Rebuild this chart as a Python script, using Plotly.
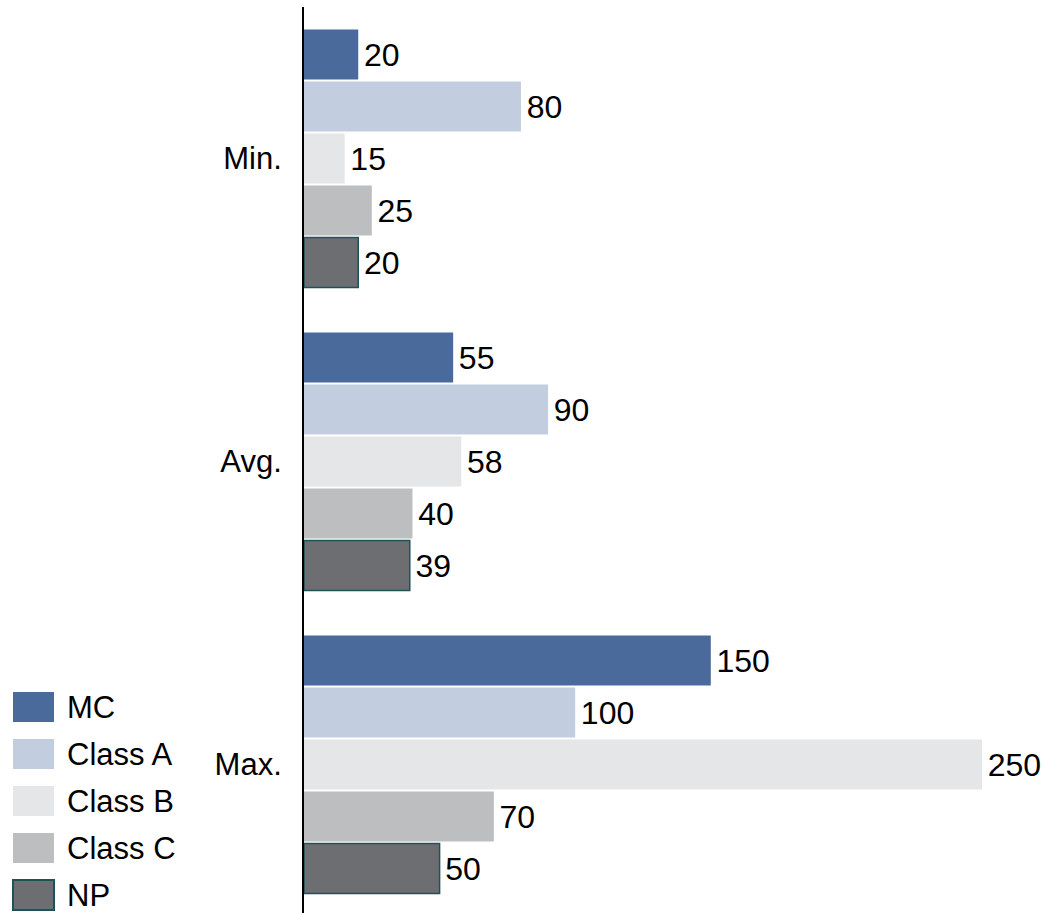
import plotly.graph_objects as go

# Data
categories = ["Min.", "Avg.", "Max."]
series_names = ["MC", "Class A", "Class B", "Class C", "NP"]
mc = [20, 55, 150]
class_a = [80, 90, 100]
class_b = [15, 58, 250]
class_c = [25, 40, 70]
np_vals = [20, 39, 50]

values = [mc, class_a, class_b, class_c, np_vals]
colors = ["#4A6A9B", "#C3CDE0", "#E5E6E8", "#BDBEC0", "#6D6E71"]
outlines = [None, None, None, None, "#1B5358"]

FONT = "Arial, 'Liberation Sans', sans-serif"
W, H = 1043, 913

fig = go.Figure()
for name, vals, col, line in zip(series_names, values, colors, outlines):
    fig.add_trace(go.Bar(
        y=categories, x=vals, name=name, orientation="h",
        marker=dict(color=col, line=dict(color=line or col, width=1.5 if line else 0)),
        text=vals, texttemplate="\u200A%{x}", textposition="outside",
        textfont=dict(family=FONT, size=32, color="#000000"),
        constraintext="none", cliponaxis=False, showlegend=False,
    ))

# Legend drawn as swatches + labels to the lower left
legend_top = 692
legend_step = 47
for i, (name, col, line) in enumerate(zip(series_names, colors, outlines)):
    y0 = legend_top + i * legend_step
    fig.add_shape(
        type="rect", xref="paper", yref="paper",
        x0=13 / W, x1=54 / W,
        y0=1 - (y0 + 30 - 7) / (H - 7), y1=1 - (y0 - 7) / (H - 7),
        fillcolor=col,
        line=dict(color=line or col, width=2 if line else 0),
    )
    fig.add_annotation(
        xref="paper", yref="paper", x=65 / W, y=1 - (y0 + 15 - 7) / (H - 7),
        text=name, showarrow=False, xanchor="left", yanchor="middle",
        font=dict(family=FONT, size=31, color="#000000"),
    )

fig.update_layout(
    width=W, height=H,
    margin=dict(l=0, r=0, t=7, b=0),
    paper_bgcolor="white", plot_bgcolor="white",
    barmode="group", bargap=0.142, bargroupgap=0.038,
    font=dict(family=FONT, color="#000000"),
    xaxis=dict(domain=[304 / W, 1], range=[0, 272.5], visible=False, fixedrange=True),
    yaxis=dict(
        range=[2.49, -0.5], showline=True, linecolor="#000000", linewidth=2,
        showgrid=False, zeroline=False, ticks="", ticklabelstandoff=14,
        tickfont=dict(family=FONT, size=31, color="#000000"), automargin=False,
    ),
)

fig.write_html("out.html")
